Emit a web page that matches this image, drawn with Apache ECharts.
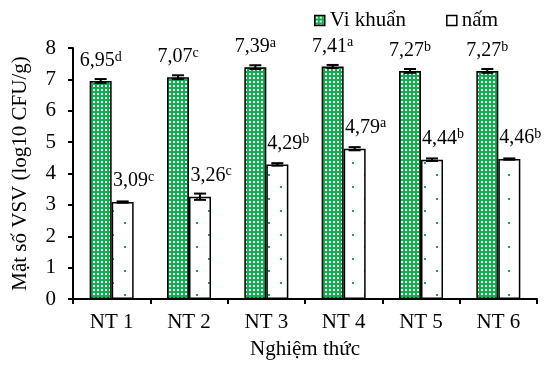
<!DOCTYPE html>
<html><head><meta charset="utf-8">
<script src="https://cdn.jsdelivr.net/npm/echarts@6/dist/echarts.min.js"></script>
<style>html,body{margin:0;padding:0;background:#fff}#c{width:553px;height:365px}</style>
</head><body><div id="c"></div>
<script>
const categories = ['NT 1','NT 2','NT 3','NT 4','NT 5','NT 6'];
const bacteria = [6.95, 7.07, 7.39, 7.41, 7.27, 7.27];
const bacteriaLetters = ['d','c','a','a','b','b'];
const bacteriaErr = [0.06, 0.06, 0.06, 0.05, 0.06, 0.06];
const fungi = [3.09, 3.26, 4.29, 4.79, 4.44, 4.46];
const fungiLetters = ['c','c','b','a','b','b'];
const fungiErr = [0.02, 0.1, 0.04, 0.05, 0.04, 0.02];
const yTicks = [0,1,2,3,4,5,6,7,8];

function makePattern(size, bg, fg, dots){
  const cv = document.createElement('canvas');
  cv.width = size; cv.height = size;
  const ctx = cv.getContext('2d');
  ctx.fillStyle = bg; ctx.fillRect(0,0,size,size);
  ctx.fillStyle = fg;
  dots.forEach(d => ctx.fillRect(d[0], d[1], 2, 2));
  return cv;
}
const greenPat = {image: makePattern(4, '#0fae4e', '#ffffff', [[1,1]]), repeat: 'repeat'};
const whitePat = {image: makePattern(24, '#ffffff', '#1aa84a', [[4,6],[16,18]]), repeat: 'repeat'};

const fmt = v => v.toFixed(2).replace('.', ',');
const FONT = 'Liberation Serif';
const FS = 21;
const BW = 22;

function errSeries(vals, errs, off){
  return {
    type: 'custom',
    silent: true,
    z: 5,
    data: vals.map((v,i)=>[i, v, errs[i]]),
    renderItem: function(params, api){
      const i = api.value(0), v = api.value(1), e = api.value(2);
      const hi = api.coord([i, v + e]);
      const lo = api.coord([i, v - e]);
      const x = hi[0] + off;
      const hw = 6;
      const st = {stroke: '#000', lineWidth: 2};
      return {type: 'group', children: [
        {type:'line', shape:{x1:x, y1:hi[1], x2:x, y2:lo[1]}, style: st},
        {type:'line', shape:{x1:x-hw, y1:hi[1], x2:x+hw, y2:hi[1]}, style: st},
        {type:'line', shape:{x1:x-hw, y1:lo[1], x2:x+hw, y2:lo[1]}, style: st}
      ]};
    }
  };
}

const rich = {
  v: {fontFamily: FONT, fontSize: 20, color: '#000', lineHeight: 22},
  s: {fontFamily: FONT, fontSize: 14, color: '#000', verticalAlign: 'top', lineHeight: 14}
};

const chart = echarts.init(document.getElementById('c'));
chart.setOption({
  animation: false,
  textStyle: {fontFamily: FONT},
  legend: {
    top: 5, left: 309, itemWidth: 10, itemHeight: 10, itemGap: 40, icon: 'rect',
    textStyle: {fontFamily: FONT, fontSize: FS, color: '#000'},
    data: [
      {name: 'Vi khuẩn', itemStyle: {color: greenPat, borderColor: '#000', borderWidth: 1.5}},
      {name: 'nấm', itemStyle: {color: '#fff', borderColor: '#000', borderWidth: 1.5}}
    ]
  },
  grid: {left: 73, right: 16, top: 48, bottom: 62},
  xAxis: {
    type: 'category', data: categories,
    name: 'Nghiệm thức', nameLocation: 'middle', nameGap: 40,
    nameTextStyle: {fontFamily: FONT, fontSize: FS, color: '#000'},
    axisLine: {lineStyle: {color: '#000', width: 2}},
    axisTick: {show: true, length: 5, lineStyle: {color: '#000', width: 2}},
    axisLabel: {fontFamily: FONT, fontSize: FS, color: '#000', margin: 13}
  },
  yAxis: {
    type: 'value', min: 0, max: 8, interval: 1,
    name: 'Mật số VSV (log10 CFU/g)', nameLocation: 'middle', nameGap: 42,
    nameTextStyle: {fontFamily: FONT, fontSize: FS, color: '#000'},
    axisLine: {show: true, lineStyle: {color: '#000', width: 2}},
    axisTick: {show: true, length: 5, lineStyle: {color: '#000', width: 2}},
    axisLabel: {fontFamily: FONT, fontSize: FS, color: '#000', margin: 17,
      formatter: v => yTicks.includes(v) ? String(v) : ''},
    splitLine: {show: false}
  },
  series: [
    {
      name: 'Vi khuẩn', type: 'bar', barWidth: BW, barGap: '0%',
      itemStyle: {color: greenPat, borderColor: '#000', borderWidth: 1.5},
      data: bacteria,
      label: {show: true, position: 'top', distance: 9, rich: rich,
        formatter: p => '{v|' + fmt(p.value) + '}{s|' + bacteriaLetters[p.dataIndex] + '}'}
    },
    {
      name: 'nấm', type: 'bar', barWidth: BW, barGap: '0%',
      itemStyle: {color: whitePat, borderColor: '#000', borderWidth: 1.5},
      data: fungi,
      label: {show: true, position: 'top', distance: 10, offset: [11, 0], rich: rich,
        formatter: p => '{v|' + fmt(p.value) + '}{s|' + fungiLetters[p.dataIndex] + '}'}
    },
    errSeries(bacteria, bacteriaErr, -BW/2),
    errSeries(fungi, fungiErr, BW/2)
  ]
});
</script></body></html>
